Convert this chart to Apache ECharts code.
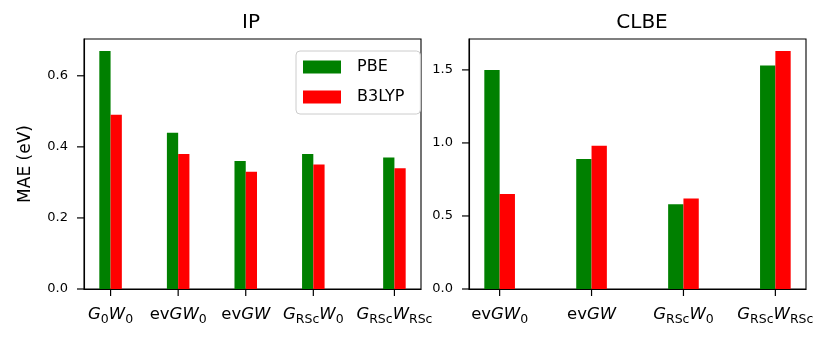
<!DOCTYPE html>
<html><head><meta charset="utf-8">
<script src="https://cdn.jsdelivr.net/npm/echarts@6/dist/echarts.min.js"></script>
<style>html,body{margin:0;padding:0;background:#fff}#c{width:832px;height:339px}</style>
</head><body><div id="c"></div>
<script>
// ---- data ----
const ipLabels = ['G0W0', 'evGW0', 'evGW', 'GRScW0', 'GRScWRSc'];
const ipPos = [0, 1, 2, 3, 4.2];
const ipPBE = [0.67, 0.44, 0.36, 0.38, 0.37];
const ipB3LYP = [0.49, 0.38, 0.33, 0.35, 0.34];

const clbeLabels = ['evGW0', 'evGW', 'GRScW0', 'GRScWRSc'];
const clbePos = [0, 1, 2, 3];
const clbePBE = [1.50, 0.89, 0.58, 1.53];
const clbeB3LYP = [0.65, 0.98, 0.62, 1.63];

const ipYTicks = [0, 0.2, 0.4, 0.6];
const clbeYTicks = [0, 0.5, 1.0, 1.5];
const seriesNames = ['PBE', 'B3LYP'];
// ---------------

const FONT = 'DejaVu Sans';
const W = 1 / 6; // bar width in data units
const TICK = 7;
const richLabels = {
  'G0W0': '{i|G}{s|0}{i|W}{s|0}',
  'evGW0': '{n|ev}{i|GW}{s|0}',
  'evGW': '{n|ev}{i|GW}',
  'GRScW0': '{i|G}{s|RSc}{i|W}{s|0}',
  'GRScWRSc': '{i|G}{s|RSc}{i|W}{s|RSc}'
};
const rich = {
  i: {fontFamily: FONT, fontStyle: 'italic', fontSize: 16.5, color: '#000', lineHeight: 18, verticalAlign: 'top'},
  n: {fontFamily: FONT, fontSize: 16.5, color: '#000', lineHeight: 18, verticalAlign: 'top'},
  s: {fontFamily: FONT, fontSize: 12.5, color: '#000', lineHeight: 12, padding: [7, 0, 0, 0], verticalAlign: 'top'}
};

function xLabelFormatter(labels, pos) {
  return function (v) {
    for (let k = 0; k < pos.length; k++) if (Math.abs(pos[k] - v) < 1e-6) return richLabels[labels[k]];
    return '';
  };
}

function barRender(side) {
  return function (params, api) {
    const x = api.value(0), y = api.value(1);
    const x0 = side < 0 ? x - W : x;
    const x1 = side < 0 ? x : x + W;
    const p0 = api.coord([x0, y]);
    const p1 = api.coord([x1, 0]);
    return {type: 'rect', shape: {x: p0[0], y: p0[1], width: p1[0] - p0[0], height: p1[1] - p0[1]},
      style: {fill: api.visual('color')}};
  };
}
// tick marks drawn through the axes' scales
function xTickRender(params, api) {
  const p = api.coord([api.value(0), 0]);
  return {type: 'line', shape: {x1: p[0], y1: p[1], x2: p[0], y2: p[1] + TICK},
    style: {stroke: '#000', lineWidth: 1.2}};
}
function yTickRender(xMin) {
  return function (params, api) {
    const p = api.coord([xMin, api.value(1)]);
    return {type: 'line', shape: {x1: p[0] - TICK, y1: p[1], x2: p[0], y2: p[1]},
      style: {stroke: '#000', lineWidth: 1.2}};
  };
}

const colors = ['#008000', '#ff0000'];
function pairs(pos, vals) { return pos.map((p, k) => [p, vals[k]]); }
function xRange(pos) {
  const lo = -W, hi = pos[pos.length - 1] + W, m = (hi - lo) * 0.05;
  return [lo - m, hi + m];
}

function xAxisFor(idx, labels, pos) {
  const r = xRange(pos);
  return {
    type: 'value', gridIndex: idx, min: r[0], max: r[1],
    splitLine: {show: false},
    axisLine: {show: true, onZero: false, lineStyle: {color: '#000', width: 1.1}},
    axisTick: {show: false},
    axisLabel: {show: true, margin: 17, customValues: pos, formatter: xLabelFormatter(labels, pos), rich: rich}
  };
}
function yAxisFor(idx, dataMax, ticks, name) {
  return {
    type: 'value', gridIndex: idx, min: 0, max: dataMax * 1.05,
    name: name, nameLocation: 'middle', nameGap: 50, nameRotate: 90,
    nameTextStyle: {fontFamily: FONT, fontSize: 17, color: '#000'},
    splitLine: {show: false},
    axisLine: {show: true, onZero: false, lineStyle: {color: '#000', width: 1.1}},
    axisTick: {show: false},
    axisLabel: {show: true, margin: 16, customValues: ticks, fontFamily: FONT, fontSize: 13, color: '#000',
      formatter: v => v.toFixed(1)}
  };
}
function tickSeries(idx, xPos, yTicks) {
  const r = xRange(xPos);
  return [
    {type: 'custom', xAxisIndex: idx, yAxisIndex: idx, clip: false, silent: true, z: 5,
      data: xPos.map(p => [p, 0]), renderItem: xTickRender},
    {type: 'custom', xAxisIndex: idx, yAxisIndex: idx, clip: false, silent: true, z: 5,
      data: yTicks.map(t => [r[0], t]), renderItem: yTickRender(r[0])}
  ];
}

const chart = echarts.init(document.getElementById('c'), null, {renderer: 'canvas'});
chart.setOption({
  animation: false,
  color: colors,
  title: [
    {text: 'IP', left: 251, top: 13, textAlign: 'center', padding: 0,
      textStyle: {fontFamily: FONT, fontSize: 20, fontWeight: 'normal', color: '#000'}},
    {text: 'CLBE', left: 642, top: 13, textAlign: 'center', padding: 0,
      textStyle: {fontFamily: FONT, fontSize: 20, fontWeight: 'normal', color: '#000'}}
  ],
  legend: {
    data: seriesNames.map(n => ({name: n, icon: 'rect'})),
    orient: 'vertical', left: 296, top: 51,
    itemWidth: 38, itemHeight: 13, itemGap: 14,
    padding: [8, 16, 9, 7],
    borderColor: '#cccccc', borderWidth: 1, borderRadius: 4, backgroundColor: '#fff',
    textStyle: {fontFamily: FONT, fontSize: 16, color: '#000', padding: [0, 0, 0, 11]}
  },
  grid: [
    {left: 84, right: 411, top: 39, bottom: 50, show: true, borderColor: '#000', borderWidth: 1.1, backgroundColor: 'transparent'},
    {left: 469, right: 26, top: 39, bottom: 50, show: true, borderColor: '#000', borderWidth: 1.1, backgroundColor: 'transparent'}
  ],
  xAxis: [xAxisFor(0, ipLabels, ipPos), xAxisFor(1, clbeLabels, clbePos)],
  yAxis: [yAxisFor(0, Math.max(...ipPBE, ...ipB3LYP), ipYTicks, 'MAE (eV)'),
          yAxisFor(1, Math.max(...clbePBE, ...clbeB3LYP), clbeYTicks, '')],
  series: [
    {type: 'custom', name: seriesNames[0], xAxisIndex: 0, yAxisIndex: 0, data: pairs(ipPos, ipPBE), renderItem: barRender(-1), itemStyle: {color: colors[0]}, z: 1},
    {type: 'custom', name: seriesNames[1], xAxisIndex: 0, yAxisIndex: 0, data: pairs(ipPos, ipB3LYP), renderItem: barRender(1), itemStyle: {color: colors[1]}, z: 1},
    {type: 'custom', name: seriesNames[0], xAxisIndex: 1, yAxisIndex: 1, data: pairs(clbePos, clbePBE), renderItem: barRender(-1), itemStyle: {color: colors[0]}, z: 1},
    {type: 'custom', name: seriesNames[1], xAxisIndex: 1, yAxisIndex: 1, data: pairs(clbePos, clbeB3LYP), renderItem: barRender(1), itemStyle: {color: colors[1]}, z: 1}
  ].concat(tickSeries(0, ipPos, ipYTicks), tickSeries(1, clbePos, clbeYTicks))
});
</script></body></html>
